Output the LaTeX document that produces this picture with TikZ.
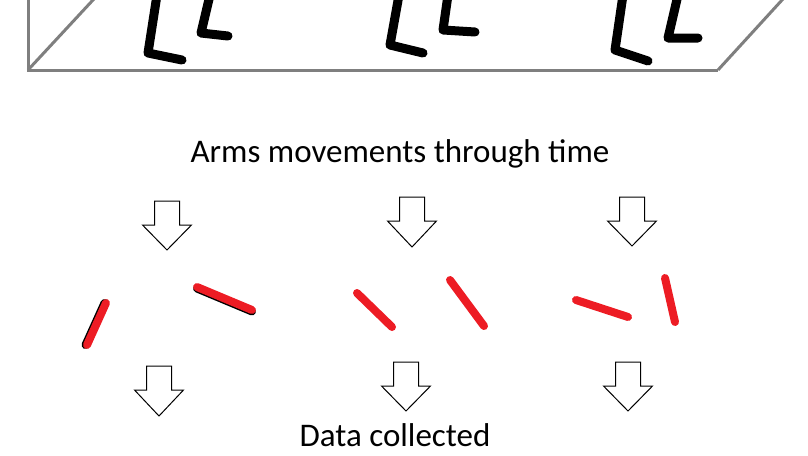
\documentclass[tikz,border=0pt]{standalone}
\usepackage{fontspec}
\setmainfont{Carlito}
\usepackage{tikz}
\definecolor{paintred}{RGB}{237,28,36}
\definecolor{floorgray}{RGB}{127,127,127}
\tikzset{
	floor/.style={draw=floorgray, line width=3pt},
	limb/.style={draw=black, line width=9pt, line cap=round, line join=round},
	arm/.style={draw=paintred, line width=8pt, line cap=round},
	armedge/.style={draw=black, line width=8pt, line cap=round},
	blockarrow/.style={draw=black, line width=1pt, fill=white, line join=miter},
	caption/.style={font=\fontsize{33}{38}\selectfont, inner sep=0pt}
}
\newcommand{\downarrowat}[3]{\draw[blockarrow](#1-12.5,#2)--(#1+12.5,#2)--(#1+12.5,#2+24)--(#1+24.5,#2+24)--(#1,#3)--(#1-24.5,#2+24)--(#1-12.5,#2+24)--cycle;}

\begin{document}
\begin{tikzpicture}[x=1pt,y=-1pt]
			\useasboundingbox(0,0) rectangle (808,455);
			\clip(0,0) rectangle (808,455);
			\draw[floor](28,-5) -- (28,70) -- (718,70);
			\draw[floor](28,70) -- (97.6,-5);
			\draw[floor](718,70) -- (786.6,-5);
			\draw[limb](157,-5) -- (148,53) -- (182,60);
			\draw[limb](210,-5) -- (201,33) -- (228,36);
			\draw[limb](399,-5) -- (390,45) -- (423,53);
			\draw[limb](448,-5) -- (443,30) -- (475,32);
			\draw[limb](623,-5) -- (615,50) -- (648,61);
			\draw[limb](678,-5) -- (668,38) -- (698,38);
			\node[caption] (movements) at (400,154) {Arms movements through time};
			\downarrowat{167}{201}{250}
			\downarrowat{412}{197}{247}
			\downarrowat{632}{197}{246}
			\draw[armedge](104.5,303) -- (85.5,345);
			\draw[arm](106,303) -- (87,345);
			\draw[armedge](197,288.5) -- (252,311.5);
			\draw[arm](197,287) -- (252,310);
			\draw[arm](357,293) -- (392,327);
			\draw[arm](450,280) -- (484,326);
			\draw[arm](576,300) -- (628,317);
			\draw[arm](665,278) -- (675,322);
			\downarrowat{159}{366}{416}
			\downarrowat{406}{362}{411}
			\downarrowat{628}{362}{411}
			\node[caption] (collected) at (395,435) {Data collected};
		\end{tikzpicture}
\end{document}
